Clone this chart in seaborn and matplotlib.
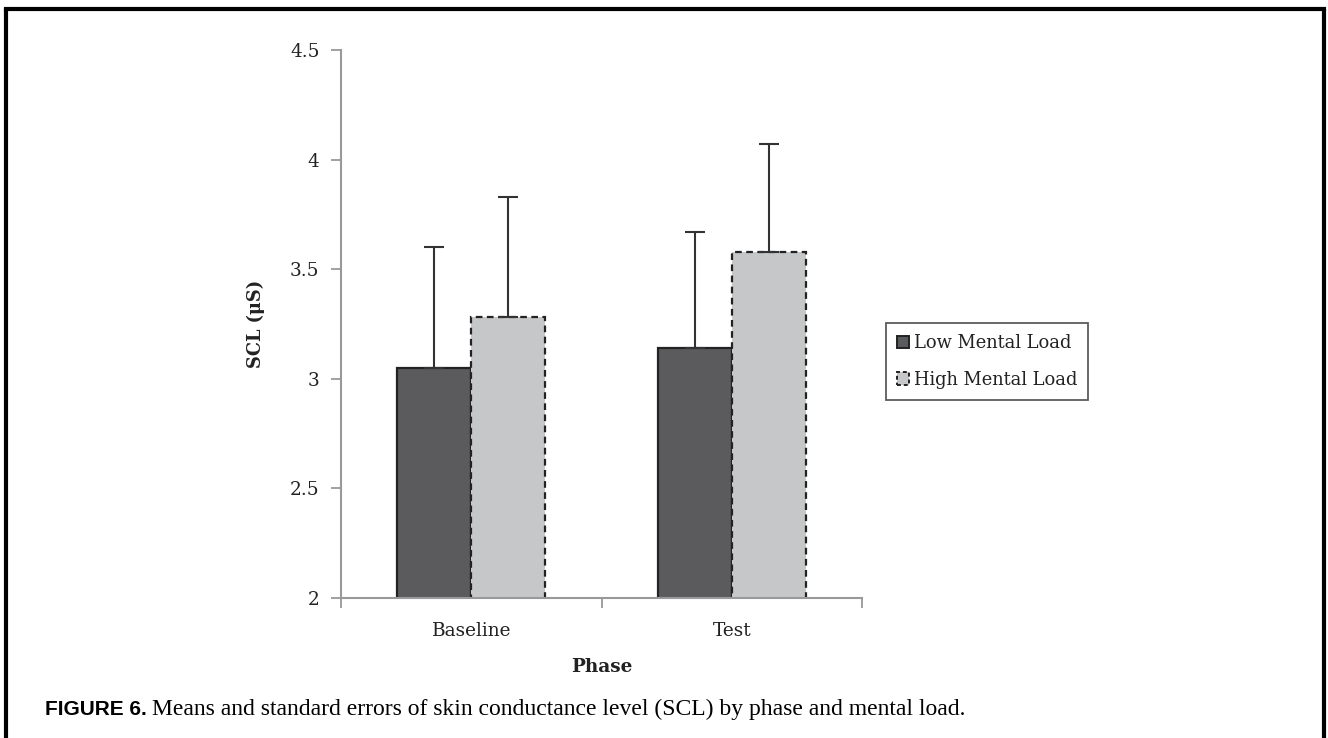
import matplotlib
matplotlib.use("Agg")
import matplotlib.pyplot as plt
import seaborn as sns
import pandas as pd
from matplotlib.lines import Line2D
from matplotlib.patches import Patch

phases = ["Baseline", "Test"]
loads = ["Low Mental Load", "High Mental Load"]
means_low = [3.05, 3.14]
means_high = [3.28, 3.58]
se_low = [0.55, 0.53]
se_high = [0.55, 0.49]
yticks = [2, 2.5, 3, 3.5, 4, 4.5]
ytick_labels = ["2", "2.5", "3", "3.5", "4", "4.5"]

df = pd.DataFrame({
    "Phase": phases * 2,
    "Load": [loads[0]] * 2 + [loads[1]] * 2,
    "SCL": means_low + means_high,
    "SE": se_low + se_high,
})

sns.set_theme(style="white")
plt.rcParams["font.family"] = ["DejaVu Serif"]

W, H = 1328, 738
fig = plt.figure(figsize=(W / 100, H / 100), dpi=100)
ax = fig.add_axes([341 / W, 1 - 598 / H, (862 - 341) / W, (598 - 50) / H])

colors = {"Low Mental Load": "#5a5b5f", "High Mental Load": "#c6c7c9"}
sns.barplot(data=df, x="Phase", y="SCL", hue="Load", order=phases,
            hue_order=loads, palette=colors, width=0.57, errorbar=None,
            ax=ax, legend=False)

# style bars & error bars
bars = [p for p in ax.patches if p.get_width() > 0]
for i, p in enumerate(bars):
    hue_idx = i // len(phases)
    ph_idx = i % len(phases)
    p.set_edgecolor("#222222")
    p.set_linewidth(1.6)
    if hue_idx == 0:
        p.set_linestyle("-")
        err = se_low[ph_idx]
    else:
        p.set_linestyle((0, (3, 2)))
        err = se_high[ph_idx]
    xc = p.get_x() + p.get_width() / 2
    top = p.get_height()
    ax.errorbar([xc], [top], yerr=[[0], [err]], fmt="none",
                ecolor="#333333", elinewidth=1.5, capsize=7, capthick=1.5,
                zorder=3)

ax.set_ylim(2, 4.5)
ax.set_xlim(-0.5, 1.5)
ax.set_yticks(yticks)
ax.set_yticklabels(ytick_labels)
ax.set_xticks([-0.5, 0.5, 1.5], minor=True)
ax.tick_params(axis="x", which="major", length=0, pad=17, labelsize=13.3,
               labelcolor="#222222")
ax.tick_params(axis="x", which="minor", length=7, width=1.3, color="#999999",
               direction="out", bottom=True)
ax.tick_params(axis="y", which="major", length=7, width=1.3, color="#999999",
               direction="out", left=True, pad=8.5, labelsize=13.3,
               labelcolor="#222222")
for s in ["top", "right"]:
    ax.spines[s].set_visible(False)
for s in ["left", "bottom"]:
    ax.spines[s].set_color("#999999")
    ax.spines[s].set_linewidth(1.5)

ax.set_xlabel("Phase", fontsize=13.3, fontweight="bold", color="#222222",
              labelpad=13)
ax.set_ylabel("SCL (μS)", fontsize=12.8, fontweight="bold", color="#222222",
              labelpad=18)

handles = [
    Patch(facecolor=colors[loads[0]], edgecolor="#222222", linewidth=1.4),
    Patch(facecolor=colors[loads[1]], edgecolor="#222222", linewidth=1.4,
          linestyle=(0, (2, 1.5))),
]
leg = fig.legend(handles, loads, loc="center left",
                 bbox_to_anchor=(886 / W, 1 - 361.5 / H), frameon=True,
                 fancybox=False, fontsize=12.9, handlelength=0.7,
                 handleheight=0.7, handletextpad=0.25, labelspacing=1.05,
                 borderpad=0.6, borderaxespad=0)
leg.get_frame().set_edgecolor("#333333")
leg.get_frame().set_linewidth(1.3)
for t in leg.get_texts():
    t.set_color("#222222")

# figure frame (top, left, right)
lw = 3.0
fig.add_artist(Line2D([6 / W, 6 / W], [0, 1 - 9 / H], color="black",
                      linewidth=lw, transform=fig.transFigure))
fig.add_artist(Line2D([6 / W, 1324 / W], [1 - 9 / H, 1 - 9 / H],
                      color="black", linewidth=lw, transform=fig.transFigure,
                      solid_capstyle="projecting"))
fig.add_artist(Line2D([1324 / W, 1324 / W], [0, 1 - 9 / H], color="black",
                      linewidth=lw, transform=fig.transFigure))

# caption
cap_y = 1 - 715 / H
t1 = fig.text(45 / W, cap_y, "FIGURE 6.", fontsize=15, fontweight="bold",
              family=["Liberation Sans", "DejaVu Sans"], va="baseline",
              color="black")
fig.canvas.draw()
bb = t1.get_window_extent(renderer=fig.canvas.get_renderer())
fig.text((bb.x1 + 5) / W, cap_y,
         "Means and standard errors of skin conductance level (SCL) by phase and mental load.",
         fontsize=17, family=["Liberation Serif", "DejaVu Serif"],
         va="baseline", color="black")

fig.savefig("out.png", dpi=100)
